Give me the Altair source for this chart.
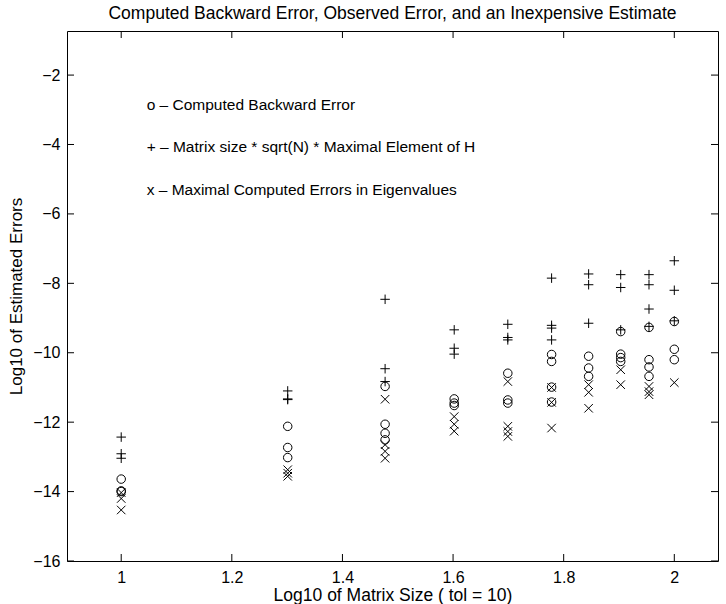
import altair as alt
import pandas as pd

# x positions: log10 of matrix sizes 10..100
x_cols = [1.0, 1.30103, 1.47712, 1.60206, 1.69897, 1.77815, 1.84510, 1.90309, 1.95424, 2.0]

# "+" : Matrix size * sqrt(N) * Maximal Element of H
plus_vals = [
    [-12.43, -12.91, -13.04],
    [-11.10, -11.33, -11.35],
    [-8.46, -10.46, -10.83],
    [-9.34, -9.87, -10.04],
    [-9.18, -9.56, -9.63],
    [-7.85, -9.21, -9.29, -9.63],
    [-7.73, -8.04, -9.15],
    [-7.75, -8.12, -9.34],
    [-7.75, -8.04, -8.74, -9.24],
    [-7.35, -8.20, -9.08],
]
# "o" : Computed Backward Error
circle_vals = [
    [-13.64, -13.98, -14.00],
    [-12.12, -12.73, -13.02],
    [-10.97, -12.06, -12.32, -12.51],
    [-11.33, -11.45, -11.52],
    [-10.59, -11.36, -11.45],
    [-10.05, -10.25, -10.99, -11.42],
    [-10.10, -10.44, -10.68],
    [-9.39, -10.04, -10.14, -10.25],
    [-9.27, -10.20, -10.41, -10.68],
    [-9.10, -9.90, -10.20],
]
# "x" : Maximal Computed Errors in Eigenvalues
cross_vals = [
    [-14.03, -14.20, -14.53],
    [-13.37, -13.47, -13.56],
    [-11.34, -12.65, -12.84, -13.04],
    [-11.84, -12.06, -12.26],
    [-10.83, -12.12, -12.27, -12.41],
    [-11.00, -11.43, -12.17],
    [-10.92, -11.14, -11.60],
    [-10.49, -10.92],
    [-10.97, -11.12, -11.21],
    [-10.86],
]

x_ticks = [1.0, 1.2, 1.4, 1.6, 1.8, 2.0]
y_ticks = [-16, -14, -12, -10, -8, -6, -4, -2]

note_x = [1.046, 1.046, 1.046]
note_y = [-2.87, -4.08, -5.31]
note_text = [
    "o \u2013 Computed Backward Error",
    "+ \u2013 Matrix size * sqrt(N) * Maximal Element of H",
    "x \u2013 Maximal Computed Errors in Eigenvalues",
]

X_DOMAIN = [0.902, 2.079]
Y_DOMAIN = [-16, -0.73]
W, H = 651, 530
FONT = "Liberation Sans"


def series_df(vals):
    rows = []
    for xv, col in zip(x_cols, vals):
        for v in col:
            rows.append({"x": xv, "y": v})
    return pd.DataFrame(rows)


xscale = alt.Scale(domain=X_DOMAIN, nice=False, zero=False)
yscale = alt.Scale(domain=Y_DOMAIN, nice=False, zero=False)

xaxis = alt.Axis(values=x_ticks, format=".1~f", title="Log10 of Matrix Size ( tol = 10)",
                 ticks=False, domain=False, grid=False, labelFont=FONT, labelFontSize=16,
                 labelColor="black", labelPadding=8, titleFont=FONT, titleFontSize=17.5,
                 titleFontWeight="normal", titleColor="black", titlePadding=1)
yaxis = alt.Axis(values=y_ticks, format="d", title="Log10 of Estimated Errors",
                 ticks=False, domain=False, grid=False, labelFont=FONT, labelFontSize=16,
                 labelColor="black", labelPadding=7, titleFont=FONT, titleFontSize=17,
                 titleFontWeight="normal", titleColor="black", titlePadding=7)

plus_path = "M-1,0L1,0M0,-1L0,1"
x_path = "M-1,-1L1,1M-1,1L1,-1"

circles = alt.Chart(series_df(circle_vals)).mark_point(
    shape="circle", filled=False, color="black", strokeWidth=1, size=72, opacity=1
).encode(x=alt.X("x:Q", scale=xscale, axis=xaxis), y=alt.Y("y:Q", scale=yscale, axis=yaxis))

pluses = alt.Chart(series_df(plus_vals)).mark_point(
    shape=plus_path, filled=False, color="black", strokeWidth=1, size=90, opacity=1
).encode(x=alt.X("x:Q", scale=xscale, axis=xaxis), y=alt.Y("y:Q", scale=yscale, axis=yaxis))

crosses = alt.Chart(series_df(cross_vals)).mark_point(
    shape=x_path, filled=False, color="black", strokeWidth=1, size=72, opacity=1
).encode(x=alt.X("x:Q", scale=xscale, axis=xaxis), y=alt.Y("y:Q", scale=yscale, axis=yaxis))

xt = pd.DataFrame({"t": x_ticks})
yt = pd.DataFrame({"t": y_ticks})
TL = 7
xtick_bottom = alt.Chart(xt).mark_rule(color="black", strokeWidth=1).encode(
    x=alt.X("t:Q", scale=xscale, axis=xaxis), y=alt.value(H), y2=alt.value(H - TL))
xtick_top = alt.Chart(xt).mark_rule(color="black", strokeWidth=1).encode(
    x=alt.X("t:Q", scale=xscale, axis=xaxis), y=alt.value(0), y2=alt.value(TL))
ytick_left = alt.Chart(yt).mark_rule(color="black", strokeWidth=1).encode(
    y=alt.Y("t:Q", scale=yscale, axis=yaxis), x=alt.value(0), x2=alt.value(TL))
ytick_right = alt.Chart(yt).mark_rule(color="black", strokeWidth=1).encode(
    y=alt.Y("t:Q", scale=yscale, axis=yaxis), x=alt.value(W), x2=alt.value(W - TL))

notes = alt.Chart(pd.DataFrame({"x": note_x, "y": note_y, "text": note_text})).mark_text(
    align="left", baseline="middle", font=FONT, fontSize=15.5, color="black"
).encode(x=alt.X("x:Q", scale=xscale, axis=xaxis), y=alt.Y("y:Q", scale=yscale, axis=yaxis),
         text="text:N")

chart = alt.layer(
    xtick_bottom, xtick_top, ytick_left, ytick_right, circles, pluses, crosses, notes
).properties(
    width=W, height=H,
    title=alt.TitleParams(
        "Computed Backward Error, Observed Error, and an Inexpensive Estimate",
        font=FONT, fontSize=17.5, fontWeight="normal", color="black", anchor="middle", offset=8),
    autosize=alt.AutoSizeParams(type="none"),
    padding={"left": 67, "top": 31, "right": 8, "bottom": 43},
    background="white",
).configure_view(stroke="black", strokeWidth=1)

chart.save("out.html", embed_options={"renderer": "svg", "actions": False})
